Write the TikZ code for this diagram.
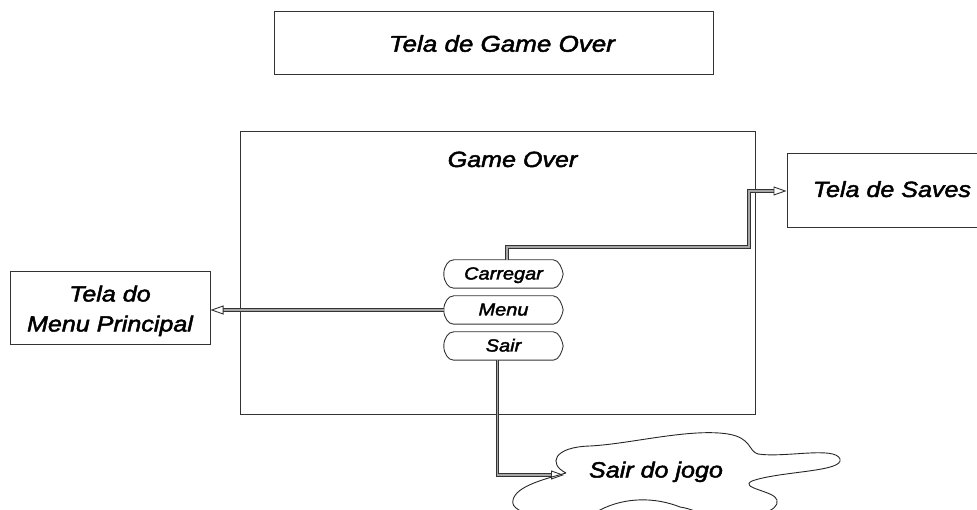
\documentclass[tikz,border=0pt]{standalone}
\usepackage{fontspec}
\setmainfont[FakeStretch=1.14, FakeBold=2.2]{Liberation Sans}
\usetikzlibrary{arrows.meta,calc}

\tikzset{
  boxline/.style={draw=black!80, line width=1pt},
  bigtxt/.style={font=\itshape\fontsize{22}{30}\selectfont},
  btntxt/.style={font=\itshape\fontsize{17.5}{20}\selectfont, inner sep=0pt,
    minimum width=119pt, minimum height=28pt, text height=11pt, text depth=0pt},
  pill/.style={draw=black!80, line width=0.9pt},
  conn/.style={draw=black!80, line width=0.9pt, double=black!35, double distance=1.7pt},
  tip/.style={-{Triangle[open,length=13pt,width=9pt]}},
}

% outline of a menu button: round left end, slightly pointed right end
\newcommand\pilloutline[1]{%
  \draw[pill] ($(#1.north west)+(10,0)$) -- ($(#1.north east)+(-10,0)$)
    .. controls ($(#1.north east)+(-4,0)$) and ($(#1.east)+(-1,-5)$) .. (#1.east)
    .. controls ($(#1.east)+(-1,5)$) and ($(#1.south east)+(-4,0)$) .. ($(#1.south east)+(-10,0)$)
    -- ($(#1.south west)+(10,0)$)
    .. controls ($(#1.south west)+(4.5,0)$) and ($(#1.west)+(0,7.7)$) .. (#1.west)
    .. controls ($(#1.west)+(0,-7.7)$) and ($(#1.north west)+(4.5,0)$) .. cycle;}

\begin{document}
\begin{tikzpicture}[x=1pt,y=-1pt]
\useasboundingbox (0,0) rectangle (977,510);

% screen title
\node[boxline, minimum width=439pt, minimum height=63pt] (title) at (493.5,43.5) {};
\node[bigtxt, font=\itshape\fontsize{22.8}{30}\selectfont, anchor=base]
  (titletxt) at (502,51.7) {Tela de Game Over};

% game over frame
\node[boxline, minimum width=515pt, minimum height=282pt] (frame) at (497.5,273) {};
\node[bigtxt, anchor=base] (frametitle) at (512.5,167) {Game Over};

% target screens
\node[boxline, bigtxt, minimum width=210pt, minimum height=74pt, text depth=4pt]
  (saves) at (892,191) {Tela de Saves};
\node[boxline, bigtxt, align=center, minimum width=200pt, minimum height=73pt, text depth=0pt]
  (mainmenu) at (110,308.5) {Tela do\\Menu Principal};

% buttons
\node[btntxt] (carregar) at (503.5,274) {Carregar};
\node[btntxt] (menu) at (503.5,310) {Menu};
\node[btntxt] (sair) at (503.5,346) {Sair};
\pilloutline{carregar}
\pilloutline{menu}
\pilloutline{sair}

% exit cloud
\draw[black!85, line width=0.9pt]
  (566,473) .. controls (548,464) and (553,447) .. (590,446)
  .. controls (630,444) and (690,428) .. (728,434)
  .. controls (752,438) and (748,451) .. (758,454)
  .. controls (785,458) and (835,446) .. (840,459)
  .. controls (844,472) and (780,471) .. (752,481)
  .. controls (738,488) and (775,491) .. (777,500)
  .. controls (780,512) and (752,516) .. (740,520)
  .. controls (720,525) and (700,510) .. (680,507)
  .. controls (655,497) and (625,497) .. (600,510)
  .. controls (560,525) and (508,515) .. (513,500)
  .. controls (516,486) and (545,479) .. (566,473);
\coordinate (cloudtip) at (564,475);
\node[bigtxt, anchor=base] (exittxt) at (656,477.5) {Sair do jogo};

% connectors
\coordinate (k1) at (749,247);
\draw[conn, tip] ([xshift=3.5pt]carregar.north) |- (k1) |- (saves.west);
\draw[conn, tip] (menu.west) -- (menu.west -| mainmenu.east);
\draw[conn, tip] ([xshift=-6pt]sair.south) |- (cloudtip);
\end{tikzpicture}
\end{document}
